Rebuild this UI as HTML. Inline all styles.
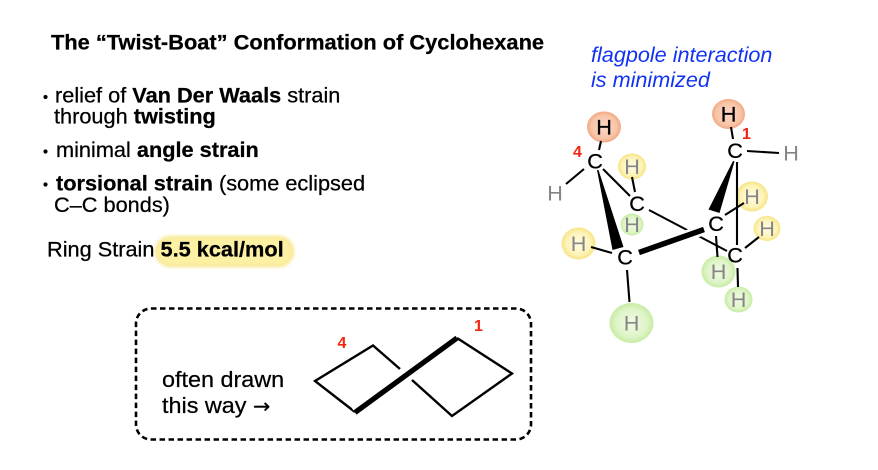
<!DOCTYPE html>
<html><head><meta charset="utf-8"><style>
html,body{margin:0;padding:0;background:#fff;}
svg{display:block;}
text{font-family:"Liberation Sans",Arial,sans-serif;}
.t{stroke:#000;stroke-width:0.25;}
</style></head><body>
<svg width="878" height="470" viewBox="0 0 878 470" xmlns="http://www.w3.org/2000/svg">
<defs>
<radialGradient id="gO" cx="50%" cy="50%" r="50%">
<stop offset="0" stop-color="#fbd9c6"/><stop offset="0.75" stop-color="#f8c4a7"/><stop offset="1" stop-color="#f2a883"/></radialGradient>
<radialGradient id="gY" cx="50%" cy="50%" r="50%">
<stop offset="0" stop-color="#fffbe4"/><stop offset="0.7" stop-color="#fdf3b8"/><stop offset="1" stop-color="#f7e484"/></radialGradient>
<radialGradient id="gG" cx="50%" cy="50%" r="50%">
<stop offset="0" stop-color="#f0fae4"/><stop offset="0.7" stop-color="#dff4c8"/><stop offset="1" stop-color="#c6eca2"/></radialGradient>
<filter id="bl" x="-20%" y="-40%" width="140%" height="180%"><feGaussianBlur stdDeviation="1.6"/></filter>
</defs>
<rect width="878" height="470" fill="#fff"/>

<!-- Title -->
<text class="t" transform="translate(51,49.5) scale(1.04,1)" font-size="21" font-weight="bold" fill="#000">The “Twist-Boat” Conformation of Cyclohexane</text>

<!-- Bullets -->
<circle cx="45.5" cy="97" r="2.1" fill="#000"/>
<text class="t" transform="translate(55,102.5) scale(1.035,1)" font-size="21" fill="#000">relief of <tspan font-weight="bold">Van Der Waals</tspan> strain</text>
<text class="t" transform="translate(54,123.5) scale(1.035,1)" font-size="21" fill="#000">through <tspan font-weight="bold">twisting</tspan></text>

<circle cx="45.5" cy="151.5" r="2.1" fill="#000"/>
<text class="t" transform="translate(56,157) scale(1.035,1)" font-size="21" fill="#000">minimal <tspan font-weight="bold">angle strain</tspan></text>

<circle cx="45.5" cy="184.5" r="2.1" fill="#000"/>
<text class="t" transform="translate(56,190.5) scale(1.035,1)" font-size="21" fill="#000"><tspan font-weight="bold">torsional strain</tspan> (some eclipsed</text>
<text class="t" transform="translate(54,212) scale(1.035,1)" font-size="21" fill="#000">C–C bonds)</text>

<!-- Ring strain highlight -->
<rect x="156" y="237" width="137" height="29" rx="14.5" fill="#fcf0a4" stroke="#f6e27c" stroke-width="2" filter="url(#bl)"/>
<text class="t" transform="translate(47,256.5) scale(1.035,1)" font-size="21" fill="#000">Ring Strain <tspan font-weight="bold">5.5 kcal/mol</tspan></text>

<!-- Flagpole -->
<text transform="translate(591,62) scale(1.03,1)" font-size="21" font-style="italic" fill="#1232f2">flagpole interaction</text>
<text transform="translate(591,87) scale(1.03,1)" font-size="21" font-style="italic" fill="#1232f2">is minimized</text>

<!-- Dashed box -->
<rect x="136" y="308.5" width="395" height="131" rx="15" fill="none" stroke="#000" stroke-width="2.6" stroke-dasharray="5.5,3.5"/>
<text class="t" transform="translate(162,387) scale(1.04,1)" font-size="22.5" fill="#000">often drawn</text>
<text class="t" transform="translate(162,413) scale(1.04,1)" font-size="22.5" fill="#000">this way <tspan font-family="'DejaVu Sans',sans-serif" font-size="20">→</tspan></text>

<!-- skeletal twist boat -->
<g stroke="#000" stroke-width="2.4" fill="none" stroke-linejoin="miter" stroke-linecap="butt">
<polyline points="400,369 373,345.5 315,381 355,412"/>
</g>
<line x1="355" y1="412.5" x2="457" y2="338" stroke="#fff" stroke-width="10"/>
<line x1="355" y1="412.5" x2="457" y2="338" stroke="#000" stroke-width="5.2"/>
<polyline points="412,380 452,416 512,373.5 457,338" stroke="#000" stroke-width="2.4" fill="none"/>
<text transform="translate(342,348)" font-size="16" font-weight="bold" fill="#f2250f" text-anchor="middle">4</text>
<text transform="translate(478.5,331)" font-size="16" font-weight="bold" fill="#f2250f" text-anchor="middle">1</text>

<!-- Molecule halos -->
<ellipse cx="604" cy="127" rx="17" ry="15.5" fill="url(#gO)"/>
<ellipse cx="728.5" cy="114" rx="16.5" ry="15" fill="url(#gO)"/>
<ellipse cx="632" cy="166.5" rx="14" ry="13" fill="url(#gY)"/>
<ellipse cx="632" cy="224.5" rx="11.5" ry="11" fill="url(#gG)"/>
<ellipse cx="578.5" cy="243.5" rx="17" ry="16" fill="url(#gY)"/>
<ellipse cx="631.5" cy="323" rx="22" ry="20" fill="url(#gG)"/>
<ellipse cx="752" cy="196.5" rx="16" ry="15" fill="url(#gY)"/>
<ellipse cx="767" cy="228.5" rx="13.5" ry="12.5" fill="url(#gY)"/>
<ellipse cx="718.5" cy="271.5" rx="17" ry="16" fill="url(#gG)"/>
<ellipse cx="738.5" cy="299.5" rx="14" ry="13" fill="url(#gG)"/>

<!-- Bonds -->
<g stroke="#000" stroke-width="2.1" stroke-linecap="butt">
<line x1="601" y1="141" x2="599" y2="150"/>
<line x1="584" y1="169" x2="566" y2="184"/>
<line x1="603" y1="169" x2="630" y2="196"/>
<line x1="632" y1="177" x2="635" y2="192"/>
<line x1="649" y1="210" x2="727" y2="251"/>
<line x1="591" y1="247" x2="612" y2="253"/>
<line x1="627" y1="270" x2="629.5" y2="302"/>
<line x1="731" y1="127" x2="733" y2="139"/>
<line x1="747" y1="151" x2="779" y2="153"/>
<line x1="737" y1="162" x2="737" y2="245"/>
<line x1="725" y1="215" x2="744" y2="203"/>
<line x1="716" y1="236" x2="717.5" y2="257"/>
<line x1="745" y1="248" x2="759" y2="237"/>
<line x1="737.5" y1="268" x2="738" y2="287"/>
</g>
<!-- wedges -->
<polygon points="597,170 598.5,170 623.5,247 612.5,250" fill="#000"/>
<polygon points="733,161 734.5,161.5 719.5,213 708.5,209.5" fill="#000"/>
<!-- thick bond with white casing -->
<line x1="639" y1="252.5" x2="704" y2="229.5" stroke="#fff" stroke-width="11"/>
<line x1="639" y1="252.5" x2="704" y2="229.5" stroke="#000" stroke-width="5.5"/>

<!-- Atom labels -->
<g font-size="21" text-anchor="middle">
<text class="t" transform="translate(595,168.5) scale(1.03,1)" fill="#000">C</text>
<text class="t" transform="translate(637,211) scale(1.03,1)" fill="#000">C</text>
<text class="t" transform="translate(625,264.5) scale(1.03,1)" fill="#000">C</text>
<text class="t" transform="translate(716,231) scale(1.03,1)" fill="#000">C</text>
<text class="t" transform="translate(735,158) scale(1.03,1)" fill="#000">C</text>
<text class="t" transform="translate(735,262.5) scale(1.03,1)" fill="#000">C</text>

<text class="t" transform="translate(604,134.5) scale(1.03,1)" fill="#000">H</text>
<text class="t" transform="translate(728.5,121.5) scale(1.03,1)" fill="#000">H</text>
<text transform="translate(555,200.5) scale(1.03,1)" fill="#858585">H</text>
<text transform="translate(791,160.5) scale(1.03,1)" fill="#858585">H</text>
<text transform="translate(632,174) scale(1.03,1)" fill="#858585">H</text>
<text transform="translate(632,232) scale(1.03,1)" fill="#858585">H</text>
<text transform="translate(578.5,251) scale(1.03,1)" fill="#858585">H</text>
<text transform="translate(631.5,330.5) scale(1.03,1)" fill="#858585">H</text>
<text transform="translate(752,204) scale(1.03,1)" fill="#858585">H</text>
<text transform="translate(767,236) scale(1.03,1)" fill="#858585">H</text>
<text transform="translate(718.5,279) scale(1.03,1)" fill="#858585">H</text>
<text transform="translate(738.5,307) scale(1.03,1)" fill="#858585">H</text>
</g>
<text transform="translate(577.5,157)" font-size="16" font-weight="bold" fill="#f2250f" text-anchor="middle">4</text>
<text transform="translate(746.5,139)" font-size="16" font-weight="bold" fill="#f2250f" text-anchor="middle">1</text>
</svg>
</body></html>
